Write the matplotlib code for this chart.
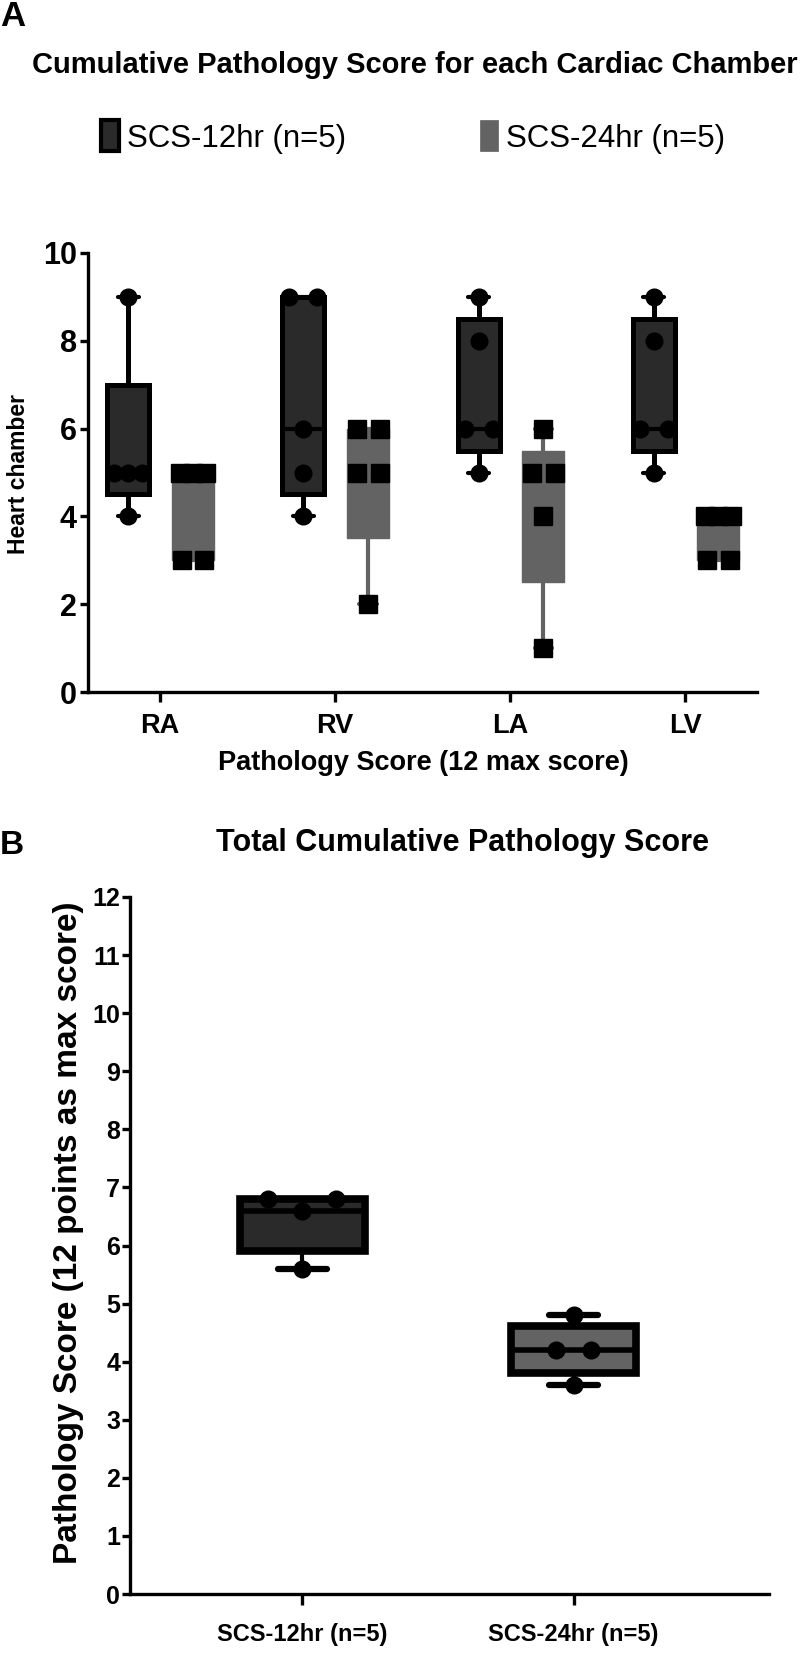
import numpy as np
import matplotlib
matplotlib.use("Agg")
import matplotlib.pyplot as plt
from matplotlib.patches import Patch

plt.rcParams['font.family'] = ['Liberation Sans', 'DejaVu Sans']
FONT = ['Liberation Sans', 'DejaVu Sans']

# ---- data (panel A: per chamber scores, n=5 per group) ----
chambers = ['RA', 'RV', 'LA', 'LV']
scs12_pts = [[9, 5, 5, 5, 4],
             [9, 9, 6, 5, 4],
             [9, 8, 6, 6, 5],
             [9, 8, 6, 6, 5]]
scs24_pts = [[5, 5, 5, 3, 3],
             [6, 6, 5, 5, 2],
             [6, 5, 5, 4, 1],
             [4, 4, 4, 3, 3]]

# ---- data (panel B: total score) ----
groups = ['SCS-12hr (n=5)', 'SCS-24hr (n=5)']
total_pts = [[6.8, 6.8, 6.6, 5.6],
             [4.8, 4.2, 4.2, 3.6]]
total_lo = [5.6, 3.6]
total_q1 = [5.9, 3.8]
total_med = [6.6, 4.2]
total_q3 = [6.8, 4.62]
total_hi = [6.8, 4.8]

DARK = '#2a2a2a'
GRAY = '#636363'

W, H = 800, 1653
fig = plt.figure(figsize=(W / 100, H / 100), dpi=100)


def fx(x):
    return x / W


def fy(y):
    return 1 - y / H


def stats_from(pts):
    # GraphPad style quartiles, rank (n+1)p
    a = np.asarray(pts, dtype=float)
    return dict(whislo=a.min(), q1=np.percentile(a, 25, method='weibull'),
                med=np.median(a), q3=np.percentile(a, 75, method='weibull'),
                whishi=a.max(), fliers=[])


def spread(vals, step, maxspan):
    # side-by-side offsets for repeated values
    vals = np.asarray(vals, dtype=float)
    off = np.zeros(len(vals))
    for v in np.unique(vals):
        idx = np.where(vals == v)[0]
        k = len(idx)
        if k > 1:
            span = min(step * (k - 1), maxspan)
            off[idx] = np.linspace(-span / 2, span / 2, k)
    return off


def style_axes(ax, lw):
    for s in ['top', 'right']:
        ax.spines[s].set_visible(False)
    for s in ['left', 'bottom']:
        ax.spines[s].set_linewidth(lw)


# ================= Panel A =================
axA = fig.add_axes([fx(88), fy(692), fx(757) - fx(88), fy(253) - fy(692)])
style_axes(axA, 2.4)
pos = np.arange(len(chambers))
off12, off24, bw = -0.18, 0.19, 0.24

st12 = [stats_from(p) for p in scs12_pts]
st24 = [stats_from(p) for p in scs24_pts]

axA.bxp(st12, positions=pos + off12, widths=bw, patch_artist=True, showfliers=False,
        capwidths=0.12,
        boxprops=dict(facecolor=DARK, edgecolor='black', linewidth=3.6),
        whiskerprops=dict(color='black', linewidth=3.6),
        capprops=dict(color='black', linewidth=3.0, solid_capstyle='round'),
        medianprops=dict(color='black', linewidth=3.0), zorder=2)
axA.bxp(st24, positions=pos + off24, widths=bw, patch_artist=True, showfliers=False,
        capwidths=0.1,
        boxprops=dict(facecolor=GRAY, edgecolor=GRAY, linewidth=1.0),
        whiskerprops=dict(color=GRAY, linewidth=3.0),
        capprops=dict(color=GRAY, linewidth=3.0, solid_capstyle='round'),
        medianprops=dict(color=GRAY, linewidth=3.0), zorder=2)

for i in range(len(chambers)):
    p = scs12_pts[i]
    axA.plot(pos[i] + off12 + spread(p, 0.16, 0.16), p, 'o', color='black', ms=12,
             zorder=4, clip_on=False)
    p = scs24_pts[i]
    axA.plot(pos[i] + off24 + spread(p, 0.13, 0.15), p, 's', color='black', ms=13,
             zorder=4, clip_on=False)

axA.set_xlim(-0.41, 3.41)
axA.set_ylim(0, 10)
axA.set_yticks([0, 2, 4, 6, 8, 10])
axA.set_xticks(pos)
axA.set_xticklabels(chambers, fontfamily=FONT, fontweight='bold', fontsize=19.5)
for t in axA.get_yticklabels():
    t.set_fontweight('bold')
    t.set_fontsize(22)
axA.tick_params(axis='y', length=6, width=2.4, pad=2)
axA.tick_params(axis='x', length=7, width=2.4, pad=8)

fig.text(fx(0), fy(16), 'A', fontsize=25, fontweight='bold', ha='left', va='center')
fig.text(fx(415), fy(65), 'Cumulative Pathology Score for each Cardiac Chamber',
         fontsize=21, fontweight='bold', ha='center', va='center')
fig.text(fx(19), fy(474), 'Heart chamber', fontsize=16.5, fontweight='bold',
         rotation=90, ha='center', va='center')
fig.text(fx(423), fy(763), 'Pathology Score (12 max score)', fontsize=19.5,
         fontweight='bold', ha='center', va='center')

handles = [Patch(facecolor=DARK, edgecolor='black', linewidth=3),
           Patch(facecolor=GRAY, edgecolor=GRAY, linewidth=0.5)]
fig.legend(handles, ['SCS-12hr (n=5)', 'SCS-24hr (n=5)'], loc='center',
           bbox_to_anchor=(fx(413), fy(137)), ncol=2, frameon=False,
           handlelength=0.58, handleheight=1.15, handletextpad=0.25,
           columnspacing=4.3, prop=dict(family=FONT, size=22.5))

# ================= Panel B =================
axB = fig.add_axes([fx(130), fy(1594), fx(769) - fx(130), fy(897) - fy(1594)])
style_axes(axB, 2.4)
posB = np.arange(len(groups))
stB = [dict(whislo=total_lo[i], q1=total_q1[i], med=total_med[i], q3=total_q3[i],
            whishi=total_hi[i], fliers=[]) for i in range(len(groups))]
colsB = [DARK, GRAY]
spanB = [0.25, 0.13]
for i in range(len(groups)):
    axB.bxp([stB[i]], positions=[posB[i]], widths=0.46, patch_artist=True,
            showfliers=False, capwidths=0.18,
            boxprops=dict(facecolor=colsB[i], edgecolor='black', linewidth=5.5),
            whiskerprops=dict(color='black', linewidth=3.0),
            capprops=dict(color='black', linewidth=4.5, solid_capstyle='round'),
            medianprops=dict(color='black', linewidth=4.0), zorder=2)
    p = total_pts[i]
    axB.plot(posB[i] + spread(p, spanB[i], spanB[i]), p, 'o', color='black', ms=12,
             zorder=4)

axB.set_xlim(-0.635, 1.72)
axB.set_ylim(0, 12)
axB.set_yticks(range(0, 13))
axB.set_xticks(posB)
axB.set_xticklabels(groups, fontfamily=FONT, fontweight='bold', fontsize=17)
for t in axB.get_yticklabels():
    t.set_fontweight('bold')
    t.set_fontsize(18)
axB.tick_params(axis='y', length=6, width=2.4, pad=1)
axB.tick_params(axis='x', length=8, width=2.4, pad=13)

fig.text(fx(0), fy(845), 'B', fontsize=24, fontweight='bold', ha='left', va='center')
fig.text(fx(463), fy(843), 'Total Cumulative Pathology Score', fontsize=22,
         fontweight='bold', ha='center', va='center')
fig.text(fx(69), fy(1233), 'Pathology Score (12 points as max score)', fontsize=24,
         fontweight='bold', rotation=90, ha='center', va='center')

fig.savefig('out.png', dpi=100)
